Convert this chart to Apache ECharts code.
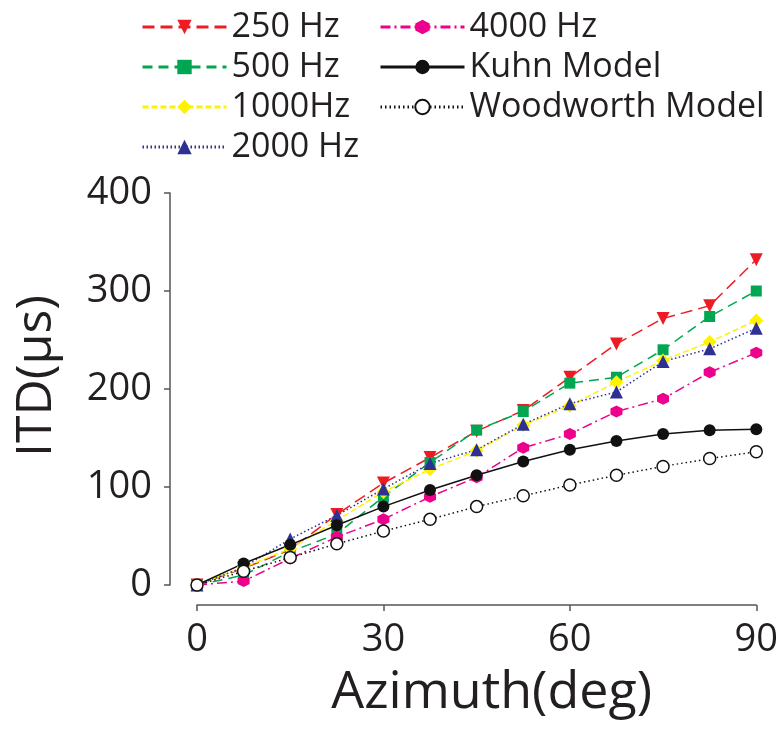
<!DOCTYPE html>
<html>
<head>
<meta charset="utf-8">
<script src="https://cdn.jsdelivr.net/npm/echarts@6/dist/echarts.min.js"></script>
<style>
  html, body { margin: 0; padding: 0; background: #fff; }
  #chart { width: 781px; height: 729px; }
</style>
</head>
<body>
<div id="chart"></div>
<script>
// Azimuth in degrees
const azimuth = [0, 7.5, 15, 22.5, 30, 37.5, 45, 52.5, 60, 67.5, 75, 82.5, 90];

// Measured ITD (µs) per frequency band
const itd250  = [0, 17, 36, 72, 104, 130, 157, 178, 212, 246, 272, 285, 332];
const itd500  = [0, 10, 34, 52, 90, 125, 158, 177, 206, 212, 240, 274, 300];
const itd1000 = [0, 18, 37, 66, 95, 118, 137, 163, 183, 207, 229, 248, 270];
const itd2000 = [0, 18, 47, 71, 98, 124, 138, 164, 185, 197, 228, 241, 262];
const itd4000 = [0, 4, 27, 49, 67, 90, 110, 140, 154, 177, 190, 217, 237];

// Model predictions
const kuhnModel = [0, 22, 41, 61, 80, 97, 112, 126, 138, 147, 154, 158, 159];
const woodworthModel = [0, 14, 28, 42, 55, 67, 80, 91, 102, 112, 121, 129, 136];

const xTicks = [0, 30, 60, 90];
const yTicks = [0, 100, 200, 300, 400];

const FONT = '"Open Sans", sans-serif';
const INK = '#231f20';
const AXIS = '#555555';
const HEX = 'path://M0,-1L0.87,-0.5L0.87,0.5L0,1L-0.87,0.5L-0.87,-0.5Z';

function pairs(ys) { return azimuth.map((x, i) => [x, ys[i]]); }

function lineSeries(name, ys, color, dash, symbol, size, extra) {
  return Object.assign({
    name: name,
    type: 'line',
    data: pairs(ys),
    symbol: symbol,
    symbolSize: size,
    clip: false,
    lineStyle: { color: color, width: 1.5, type: dash },
    itemStyle: { color: color, borderColor: color, borderWidth: 0 },
    emphasis: { disabled: true },
    animation: false
  }, extra || {});
}

const chart = echarts.init(document.getElementById('chart'), null, { renderer: 'canvas' });

const legendCommon = {
  orient: 'vertical',
  itemWidth: 84,
  itemHeight: 18,
  itemGap: 4,
  lineStyle: { width: 3 },
  textStyle: { fontFamily: FONT, fontSize: 34, color: INK, lineHeight: 36 },
  selectedMode: false
};

chart.setOption({
  backgroundColor: '#fff',
  animation: false,
  legend: [
    Object.assign({}, legendCommon, {
      left: 136, top: 4,
      data: ['250 Hz', '500 Hz', '1000Hz', '2000 Hz']
    }),
    Object.assign({}, legendCommon, {
      left: 374, top: 4,
      data: ['4000 Hz', 'Kuhn Model', 'Woodworth Model']
    })
  ],
  grid: { left: 197, right: 24, top: 193, bottom: 144, containLabel: false },
  xAxis: {
    type: 'value',
    min: 0, max: 90, interval: 30,
    offset: 20,
    name: 'Azimuth(deg)',
    nameLocation: 'middle',
    nameGap: 62,
    nameTextStyle: { fontFamily: FONT, fontSize: 52, color: INK, padding: [0, 0, 0, 30] },
    axisLine: { show: true, onZero: false, lineStyle: { color: AXIS, width: 1.5 } },
    axisTick: { show: true, length: 6, lineStyle: { color: AXIS, width: 1.5 } },
    axisLabel: {
      fontFamily: FONT, fontSize: 38, color: INK, margin: 16,
      formatter: v => (xTicks.includes(v) ? String(v) : '')
    },
    splitLine: { show: false }
  },
  yAxis: {
    type: 'value',
    min: 0, max: 400, interval: 100,
    offset: 27,
    name: 'ITD(μs)',
    nameLocation: 'middle',
    nameGap: 108,
    nameRotate: 90,
    nameTextStyle: { fontFamily: FONT, fontSize: 50, color: INK, padding: [0, 0, 0, 26] },
    axisLine: { show: true, onZero: false, lineStyle: { color: AXIS, width: 1.5 } },
    axisTick: { show: true, length: 6, lineStyle: { color: AXIS, width: 1.5 } },
    axisLabel: {
      fontFamily: FONT, fontSize: 38, color: INK, margin: 18,
      formatter: v => (yTicks.includes(v) ? String(v) : '')
    },
    splitLine: { show: false }
  },
  series: [
    lineSeries('250 Hz', itd250, '#ed1c24', [12, 6], 'triangle', 13, { symbolRotate: 180 }),
    lineSeries('500 Hz', itd500, '#00a651', [10, 6], 'rect', 11),
    lineSeries('1000Hz', itd1000, '#fff200', [6, 3], 'diamond', 14),
    lineSeries('2000 Hz', itd2000, '#2e3192', [1.5, 2.5], 'triangle', 13),
    lineSeries('4000 Hz', itd4000, '#ec008c', [10, 4, 2, 4], HEX, 12),
    lineSeries('Kuhn Model', kuhnModel, '#111111', 'solid', 'circle', 12),
    lineSeries('Woodworth Model', woodworthModel, '#111111', [1.5, 3], 'circle', 12, {
      itemStyle: { color: '#ffffff', borderColor: '#111111', borderWidth: 1.5 }
    })
  ]
});
</script>
</body>
</html>
